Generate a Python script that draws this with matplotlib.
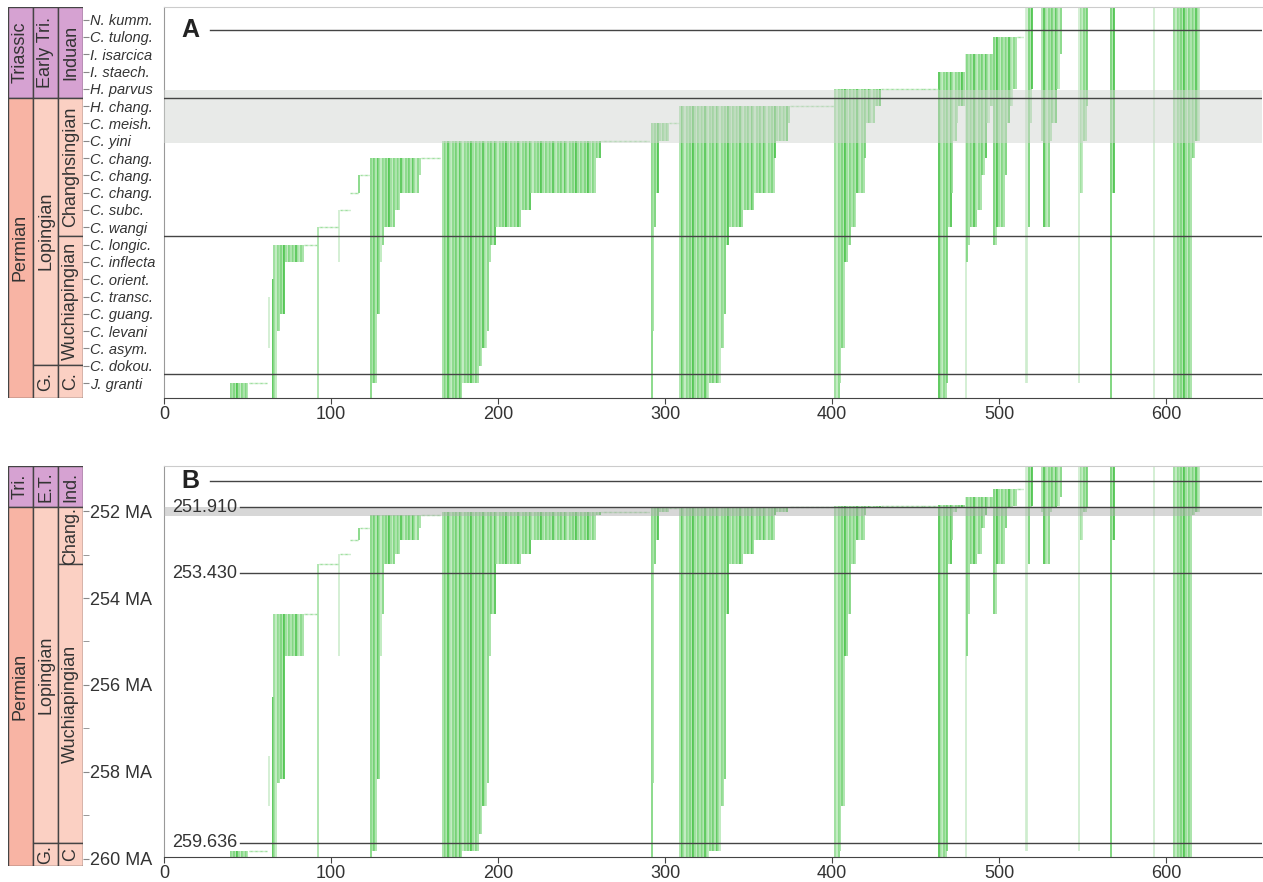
import numpy as np
import matplotlib.pyplot as plt
from matplotlib.patches import Rectangle

plt.rcParams['font.family'] = ['Liberation Sans', 'DejaVu Sans']

# conodont zones, bottom to top (panel A levels 0..21)
zones = ['J. granti', 'C. dokou.', 'C. asym.', 'C. levani', 'C. guang.', 'C. transc.',
         'C. orient.', 'C. inflecta', 'C. longic.', 'C. wangi', 'C. subc.', 'C. chang.',
         'C. chang.', 'C. chang.', 'C. yini', 'C. meish.', 'H. chang.', 'H. parvus',
         'I. staech.', 'I. isarcica', 'C. tulong.', 'N. kumm.']

# age (Ma) of each zone level, used for panel B
zone_age = [259.84, 259.43, 258.79, 258.27, 258.17, 257.64, 256.28, 255.33, 254.37, 253.22,
            252.98, 252.66, 252.38, 252.10, 252.02, 251.92, 251.90, 251.88, 251.86, 251.67,
            251.49, 250.80]

# taxon ranges: first taxon, last taxon, top zone, bottom zone
# (-1 = runs below the chart, 22 = runs above the chart)
ranges = [
    (40, 50, 0, -1), (51, 61, 0, 0), (63, 63, 5, 2), (65, 65, 6, -1),
    (66, 67, 8, -1), (68, 69, 8, 3), (70, 72, 8, 4), (73, 83, 8, 7), (84, 91, 8, 8),
    (92, 92, 9, -1), (93, 104, 9, 9), (105, 105, 10, 7), (106, 111, 10, 10),
    (112, 116, 11, 11), (117, 117, 12, 11), (118, 123, 12, 12),
    (124, 124, 13, -1), (125, 127, 13, 0), (128, 129, 13, 4), (130, 130, 13, 7),
    (131, 131, 13, 8), (132, 138, 13, 9), (139, 141, 13, 10), (142, 152, 13, 11),
    (153, 153, 13, 12), (154, 165, 13, 13),
    (167, 178, 14, -1), (179, 188, 14, 0), (189, 190, 14, 1), (191, 193, 14, 2),
    (194, 194, 14, 3), (195, 195, 14, 7), (196, 198, 14, 8), (199, 213, 14, 9),
    (214, 219, 14, 10), (220, 258, 14, 11), (259, 261, 14, 13), (262, 290, 14, 14),
    (292, 292, 15, -1), (293, 293, 15, 3), (294, 294, 15, 9), (295, 296, 15, 11),
    (297, 302, 15, 14), (303, 308, 15, 15),
    (309, 326, 16, -1), (327, 333, 16, 0), (334, 335, 16, 2), (336, 336, 16, 4),
    (337, 338, 16, 8), (339, 346, 16, 9), (347, 353, 16, 10), (354, 365, 16, 11),
    (366, 366, 16, 13), (367, 373, 16, 14), (374, 374, 16, 15), (375, 401, 16, 16),
    (402, 404, 17, -1), (405, 405, 17, 0), (406, 407, 17, 2), (408, 409, 17, 7),
    (410, 411, 17, 8), (412, 414, 17, 9), (415, 419, 17, 11), (420, 420, 17, 13),
    (421, 425, 17, 15), (426, 429, 17, 16), (430, 463, 17, 17),
    (464, 468, 18, -1), (469, 469, 18, 0), (470, 471, 18, 9), (472, 472, 18, 11),
    (473, 474, 18, 14), (475, 475, 18, 15), (476, 479, 18, 16),
    (480, 480, 19, -1), (481, 481, 19, 7), (482, 482, 19, 8), (483, 486, 19, 9),
    (487, 489, 19, 10), (490, 491, 19, 12), (492, 492, 19, 13), (493, 494, 19, 15),
    (495, 496, 19, 16),
    (497, 498, 20, 8), (499, 503, 20, 9), (504, 504, 20, 12), (505, 506, 20, 15),
    (507, 508, 20, 16), (509, 510, 20, 17), (511, 514, 20, 20),
    (516, 517, 22, 0), (518, 518, 22, 9), (519, 519, 22, 15), (520, 520, 22, 17),
    (526, 526, 22, 14), (527, 530, 22, 9), (531, 531, 22, 14), (532, 534, 22, 15),
    (535, 536, 22, 17), (537, 537, 22, 19),
    (548, 548, 22, 0), (549, 550, 22, 11), (551, 552, 22, 14), (553, 553, 22, 16),
    (567, 567, 22, -1), (568, 569, 22, 11), (593, 593, 22, -1),
    (605, 615, 22, -1), (616, 617, 22, 13), (618, 620, 22, 14),
]
faint = [63, 105, 480, 516, 517, 548, 593]

b_ticks = [252, 254, 256, 258, 260]
b_minor = [253, 255, 257, 259]
b_bounds = [251.910, 253.430, 259.636]

W, H = 1263, 882
fig = plt.figure(figsize=(W / 100, H / 100), dpi=100)


def box(x0, y0, x1, y1):
    return [x0 / W, 1 - y1 / H, (x1 - x0) / W, (y1 - y0) / H]


shades = ['#6ccf6c', '#a3e1a3', '#44c144', '#8fda8f', '#b8e9b8', '#79d479', '#9cdf9c']
age_ext = [260.6] + zone_age + [250.5]


def lev_a(l):
    return {-1: -1.5, 22: 22.5}.get(l, l)


def lev_b(l):
    return age_ext[l + 1]


def draw_taxa(ax, conv):
    xs, y0, y1, cols = [], [], [], []
    hx, hy = [], []
    for x0, x1, top, bot in ranges:
        for x in range(x0, x1 + 1):
            if top == bot:
                hx.append(x)
                hy.append(conv(top))
            else:
                xs.append(x)
                y0.append(conv(bot))
                y1.append(conv(top))
                cols.append('#cdeccd' if x in faint else shades[x % len(shades)])
    ax.vlines(xs, y0, y1, colors=cols, lw=1.2, zorder=2)
    hx = np.array(hx)
    ax.hlines(hy, hx - 0.4, hx + 0.4, colors='#9fdf9f', lw=1.0, zorder=2)


def style_main(ax):
    ax.set_xlim(0, 657.5)
    ax.set_yticks([])
    ax.set_xticks(range(0, 700, 100))
    ax.tick_params(axis='x', labelsize=13, length=4, color='#444444', labelcolor='#333333', pad=2)
    ax.spines['right'].set_visible(False)
    ax.spines['top'].set_color('#cccccc')
    ax.spines['left'].set_color('#999999')
    ax.spines['bottom'].set_color('#444444')


def column(ax, boxes, size=13):
    ax.set_xlim(0, 3)
    ax.set_xticks([])
    for s in ax.spines.values():
        s.set_visible(False)
    for col, ya, yb, label, color in boxes:
        ax.add_patch(Rectangle((col, ya), 1, yb - ya, facecolor=color, edgecolor='#444444', lw=1.0))
        ax.text(col + 0.5, (ya + yb) / 2, label, rotation=90, ha='center', va='center',
                fontsize=size, color='#333333')
    ax.yaxis.tick_right()
    ax.tick_params(axis='y', length=4, color='#888888', pad=1, labelcolor='#333333')


purple = '#d6a2d2'
salmon = '#f8b4a4'
light = '#fbd0c3'

# ---------------- panel A ----------------
ax_a = fig.add_axes(box(164, 7, 1262, 398))
ya0, ya1 = -0.867, 21.734
ax_a.set_ylim(ya0, ya1)
draw_taxa(ax_a, lev_a)
ax_a.axhspan(13.9, 16.95, color='#d2d6d2', alpha=0.5, lw=0, zorder=3)
for y in [0.5, 8.5, 16.5]:
    ax_a.axhline(y, color='#444444', lw=1.0, zorder=4)
ax_a.axhline(20.4, xmin=0.042, color='#444444', lw=1.0, zorder=4)
ax_a.text(0.024, 20.4, 'A', transform=ax_a.get_yaxis_transform(), fontsize=18,
          fontweight='bold', ha='center', va='center', color='#222222')
style_main(ax_a)

ca = fig.add_axes(box(8, 7, 83, 398))
ca.set_ylim(ya0, ya1)
column(ca, [
    (0, 16.5, ya1, 'Triassic', purple), (0, ya0, 16.5, 'Permian', salmon),
    (1, 16.5, ya1, 'Early Tri.', purple), (1, 1.04, 16.5, 'Lopingian', light),
    (1, ya0, 1.04, 'G.', light),
    (2, 16.5, ya1, 'Induan', purple), (2, 8.5, 16.5, 'Changhsingian', light),
    (2, 1.04, 8.5, 'Wuchiapingian', light), (2, ya0, 1.04, 'C.', light),
])
ca.set_yticks(range(len(zones)))
ca.set_yticklabels(zones, fontsize=10.5, style='italic')

# ---------------- panel B ----------------
ax_b = fig.add_axes(box(164, 466, 1262, 857))
ax_b.set_ylim(259.97, 250.96)
draw_taxa(ax_b, lev_b)
ax_b.axhspan(251.90, 252.12, color='#b0b0b0', alpha=0.5, lw=0, zorder=3)
for y in b_bounds:
    ax_b.axhline(y, xmin=0.069, color='#444444', lw=1.0, zorder=4)
    ax_b.text(0.007, y, f'{y:.3f}', transform=ax_b.get_yaxis_transform(), fontsize=13,
              ha='left', va='center', color='#333333', zorder=5)
ax_b.axhline(251.3, xmin=0.042, color='#444444', lw=1.0, zorder=4)
ax_b.text(0.024, 251.3, 'B', transform=ax_b.get_yaxis_transform(), fontsize=18,
          fontweight='bold', ha='center', va='center', color='#222222')
style_main(ax_b)

cb = fig.add_axes(box(8, 466, 83, 866))
yb0, yb1 = 260.17, 250.96
cb.set_ylim(yb0, yb1)
column(cb, [
    (0, yb1, 251.91, 'Tri.', purple), (0, 251.91, yb0, 'Permian', salmon),
    (1, yb1, 251.91, 'E.T.', purple), (1, 251.91, 259.64, 'Lopingian', light),
    (1, 259.64, yb0, 'G.', light),
    (2, yb1, 251.91, 'Ind.', purple), (2, 251.91, 253.22, 'Chang.', light),
    (2, 253.22, 259.64, 'Wuchiapingian', light), (2, 259.64, yb0, 'C', light),
])
cb.set_yticks(b_ticks)
cb.set_yticklabels([f'{t} MA' for t in b_ticks], fontsize=13)
cb.set_yticks(b_minor, minor=True)
cb.tick_params(axis='y', which='minor', length=4, color='#888888')

fig.savefig('out.png', dpi=100)
